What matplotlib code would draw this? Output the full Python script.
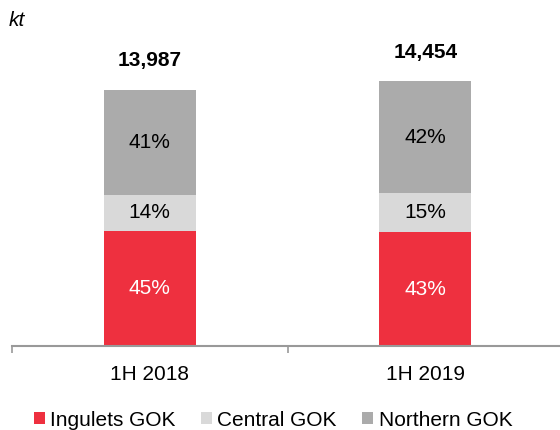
import numpy as np
import matplotlib
matplotlib.use('Agg')
import matplotlib.pyplot as plt

plt.rcParams['font.family'] = ['Liberation Sans', 'DejaVu Sans']

# data
periods = ['1H 2018', '1H 2019']
totals = [13987, 14454]
series = ['Ingulets GOK', 'Central GOK', 'Northern GOK']
shares = {
    'Ingulets GOK': [45, 43],
    'Central GOK': [14, 15],
    'Northern GOK': [41, 42],
}
colors = {'Ingulets GOK': '#EE303F', 'Central GOK': '#D9D9D9', 'Northern GOK': '#ABABAB'}
text_colors = {'Ingulets GOK': 'white', 'Central GOK': 'black', 'Northern GOK': 'black'}

fig = plt.figure(figsize=(5.6, 4.3), dpi=100)
ax = fig.add_axes([12 / 560, 1 - 346 / 430, 551 / 560, 306 / 430])

x = np.arange(len(periods))
totals_arr = np.array(totals, dtype=float)
bottom = np.zeros(len(periods))
for name in series:
    pct = np.array(shares[name], dtype=float)
    vals = totals_arr * pct / 100
    ax.bar(x, vals, 0.334, bottom=bottom, color=colors[name], label=name, zorder=2)
    for xi, b, v, p in zip(x, bottom, vals, pct):
        ax.text(xi, b + v / 2, f'{p:.0f}%', ha='center', va='center',
                fontsize=15, color=text_colors[name])
    bottom += vals

# totals above the bars
for xi, t in zip(x, totals):
    ax.annotate(f'{t:,}', (xi, t), xytext=(0, 21), textcoords='offset points',
                ha='center', va='center', fontsize=15, fontweight='bold')

ax.set_xlim(-0.5, 1.5)
ax.set_ylim(0, 306 / (256 / 13987))
ax.set_xticks(x)
ax.set_xticklabels(periods, fontsize=15)
ax.set_xticks([-0.5, 0.5, 1.5], minor=True)
ax.tick_params(axis='x', which='major', length=0, pad=14)
ax.tick_params(axis='x', which='minor', length=5, color='#999999', width=1.2)
ax.set_yticks([])
for s in ['top', 'right', 'left']:
    ax.spines[s].set_visible(False)
ax.spines['bottom'].set_color('#999999')
ax.spines['bottom'].set_linewidth(1.5)

fig.text(9 / 560, 1 - 20 / 430, 'kt', fontsize=15, style='italic', va='center', ha='left')

fig.legend(loc='center', bbox_to_anchor=(273 / 560, 1 - 420 / 430), ncol=3, frameon=False,
           fontsize=15, handlelength=0.55, handleheight=0.55, handletextpad=0.25,
           columnspacing=1.2, borderaxespad=0)

fig.savefig('out.png', dpi=100)
